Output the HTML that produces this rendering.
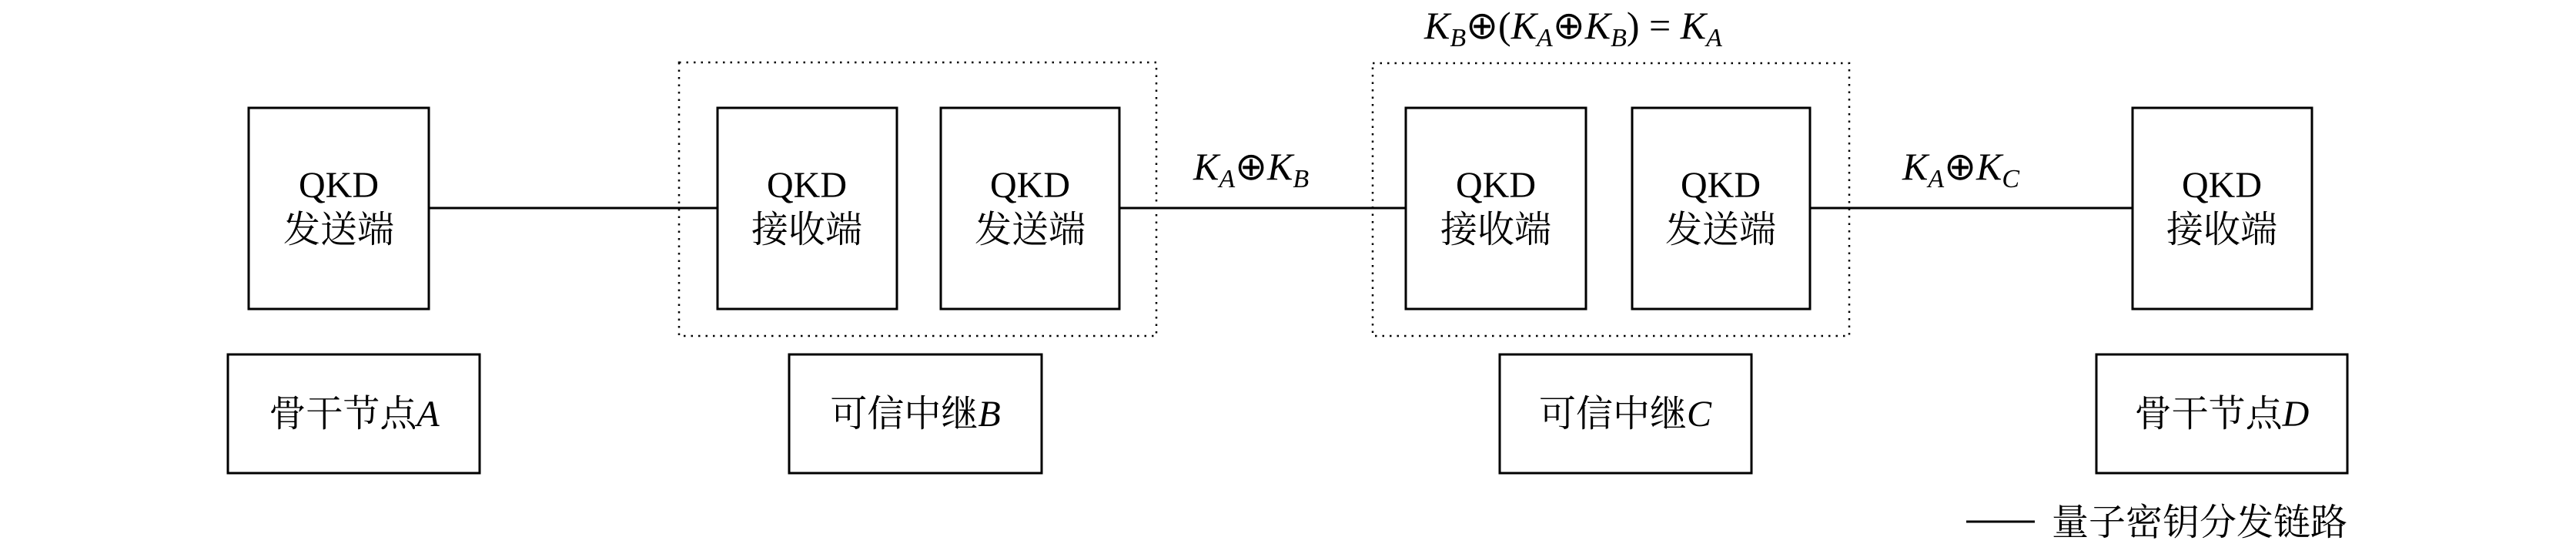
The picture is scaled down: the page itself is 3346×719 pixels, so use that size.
<!DOCTYPE html>
<html><head><meta charset="utf-8"><style>
html,body{margin:0;padding:0;background:#fff;}
svg{display:block;}
.cj{font-family:"Liberation Serif","Noto Serif CJK SC",serif;font-size:48px;fill:#000;}
.m{font-family:"Liberation Serif",serif;font-style:italic;font-size:50px;fill:#000;}
.s{font-family:"Liberation Serif",serif;font-style:italic;font-size:34px;}
.r{font-style:normal;}
</style></head><body>
<svg width="3346" height="719" viewBox="0 0 3346 719" xmlns="http://www.w3.org/2000/svg">
<g fill="none" stroke="#000" stroke-width="3">
<rect x="323" y="140" width="234" height="261"/>
<rect x="932" y="140" width="233" height="261"/>
<rect x="1222" y="140" width="232" height="261"/>
<rect x="1826" y="140" width="234" height="261"/>
<rect x="2120" y="140" width="231" height="261"/>
<rect x="2770" y="140" width="233" height="261"/>
<rect x="296" y="460" width="327" height="154"/>
<rect x="1025" y="460" width="328" height="154"/>
<rect x="1948" y="460" width="327" height="154"/>
<rect x="2723" y="460" width="326" height="154"/>
<line x1="557" y1="270" x2="932" y2="270"/>
<line x1="1454" y1="270" x2="1826" y2="270"/>
<line x1="2351" y1="270" x2="2770" y2="270"/>
<line x1="2554" y1="677" x2="2643" y2="677"/>
</g>
<g fill="none" stroke="#000" stroke-width="2.5" stroke-dasharray="2.5 7">
<rect x="882" y="81" width="620" height="355"/>
<rect x="1783" y="82" width="619" height="354"/>
</g>
<g class="cj" text-anchor="middle">
<text x="440" y="256">QKD</text><text x="440" y="314">发送端</text>
<text x="1048" y="256">QKD</text><text x="1048" y="314">接收端</text>
<text x="1338" y="256">QKD</text><text x="1338" y="314">发送端</text>
<text x="1943" y="256">QKD</text><text x="1943" y="314">接收端</text>
<text x="2235" y="256">QKD</text><text x="2235" y="314">发送端</text>
<text x="2886" y="256">QKD</text><text x="2886" y="314">接收端</text>
<text x="460" y="553">骨干节点<tspan font-style="italic">A</tspan></text>
<text x="1189" y="553">可信中继<tspan font-style="italic">B</tspan></text>
<text x="2111" y="553">可信中继<tspan font-style="italic">C</tspan></text>
<text x="2886" y="553">骨干节点<tspan font-style="italic">D</tspan></text>
</g>
<text class="cj" x="2665" y="694">量子密钥分发链路</text>
<text class="m" x="1550" y="233">K<tspan class="s" dy="10">A</tspan><tspan class="r" dy="-10">⊕</tspan>K<tspan class="s" dy="10">B</tspan></text>
<text class="m" x="2471" y="233">K<tspan class="s" dy="10">A</tspan><tspan class="r" dy="-10">⊕</tspan>K<tspan class="s" dy="10">C</tspan></text>
<text class="m" x="1850" y="50">K<tspan class="s" dy="10">B</tspan><tspan class="r" dy="-10">⊕(</tspan>K<tspan class="s" dy="10">A</tspan><tspan class="r" dy="-10">⊕</tspan>K<tspan class="s" dy="10">B</tspan><tspan class="r" dy="-10">) = </tspan>K<tspan class="s" dy="10">A</tspan></text>
</svg>
</body></html>
